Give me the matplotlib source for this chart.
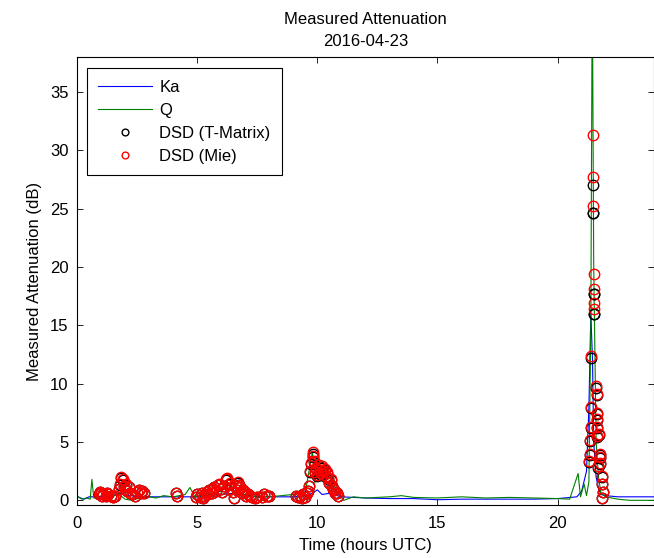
import numpy as np
import matplotlib
matplotlib.use('Agg')
import matplotlib.pyplot as plt

plt.rcParams['font.family'] = ['Liberation Sans', 'DejaVu Sans']
plt.rcParams['font.size'] = 12

# link attenuation, Ka band (hours UTC, dB)
ka_t = [0.0, 0.3, 0.5, 1.0, 1.5, 1.8, 2.0, 2.5, 3.0, 4.0, 5.0, 5.5, 6.0, 6.5, 7.0,
        7.5, 8.0, 9.0, 9.5, 9.8, 10.0, 10.2, 10.5, 11.0, 12.0, 13.0, 14.0, 15.0,
        16.0, 17.0, 18.0, 19.0, 20.0, 20.8, 21.0, 21.2, 21.3, 21.38, 21.45, 21.5,
        21.6, 21.7, 21.8, 22.0, 22.5, 23.0, 24.0]
ka_v = [0.3, 0.1, 0.3, 0.3, 0.4, 0.6, 0.5, 0.3, 0.3, 0.3, 0.3, 0.4, 0.5, 0.6, 0.4,
        0.3, 0.3, 0.3, 0.4, 0.6, 0.9, 0.5, 0.6, 0.3, 0.2, 0.15, 0.15, 0.05,
        0.1, 0.1, 0.1, 0.1, 0.15, 0.3, 0.8, 2.5, 8.0, 16.0, 12.0, 5.0,
        2.0, 1.0, 0.5, 0.4, 0.3, 0.3, 0.3]

# link attenuation, Q band
q_t = [0.0, 0.2, 0.4, 0.55, 0.62, 0.7, 1.0, 1.5, 1.7, 2.0, 2.3, 2.6, 3.0, 3.3,
       3.6, 4.0, 4.5, 4.7, 4.9, 5.5, 6.0, 6.3, 6.6, 7.0, 7.5, 8.0, 8.5, 9.0,
       9.5, 9.8, 9.9, 10.0, 10.2, 10.5, 10.8, 11.1, 11.5, 12.0, 13.0, 13.5,
       14.0, 15.0, 16.0, 17.0, 18.0, 19.0, 20.0, 20.5, 20.85, 20.95, 21.1,
       21.2, 21.3, 21.38, 21.44, 21.5, 21.6, 21.7, 21.8, 22.0, 22.5, 23.0, 24.0]
q_v = [0.4, 0.1, 0.2, 0.1, 1.8, 0.2, 0.2, 0.3, 0.6, 0.1, 0.0, 0.2, 0.3, 0.2,
       0.4, 0.3, 0.5, 1.1, 0.3, 0.5, 0.8, 1.5, 0.6, 0.5, 0.3, 0.3, 0.4, 0.5,
       0.7, 4.2, 1.5, 3.5, 2.5, 2.5, 0.8, 0.0, 0.3, 0.2, 0.3, 0.4,
       0.25, 0.2, 0.3, 0.2, 0.25, 0.2, 0.15, 0.1, 2.3, 0.3, 1.4,
       0.4, 1.6, 15.0, 45.0, 20.0, 5.0, 2.0, 0.6, 0.3, 0.1, 0.0, 0.0]

# disdrometer-derived attenuation
dsd_t = [0.9, 0.95, 1.0, 1.05, 1.1, 1.2, 1.25, 1.3, 1.4, 1.5, 1.6, 1.75, 1.8,
         1.85, 1.9, 1.95, 2.0, 2.05, 2.1, 2.15, 2.2, 2.3, 2.4, 2.5, 2.6, 2.65,
         2.7, 2.8,
         4.1, 4.15,
         4.95, 5.0, 5.1, 5.2, 5.25, 5.3, 5.4, 5.45, 5.5, 5.6, 5.65, 5.7, 5.8,
         5.85, 5.9, 6.0, 6.05, 6.1, 6.2, 6.25, 6.3, 6.35, 6.4, 6.5, 6.55, 6.6,
         6.65, 6.7, 6.75, 6.8, 6.85, 6.9, 7.0, 7.05, 7.1, 7.2, 7.3, 7.4, 7.5,
         7.7, 7.8, 7.9, 8.0,
         9.1, 9.2, 9.3, 9.35, 9.4, 9.5, 9.55, 9.6, 9.65, 9.7, 9.75, 9.8, 9.82,
         9.85, 9.9, 9.95, 10.0, 10.05, 10.1, 10.15, 10.2, 10.25, 10.3, 10.35,
         10.4, 10.45, 10.5, 10.55, 10.6, 10.65, 10.7, 10.75, 10.8, 10.85,
         21.32, 21.35, 21.35, 21.4, 21.4, 21.4, 21.47, 21.47, 21.47, 21.5, 21.51,
         21.51, 21.5, 21.58, 21.63, 21.65, 21.62, 21.65, 21.72, 21.62, 21.75,
         21.77, 21.77, 21.67, 21.84, 21.85, 21.88, 21.85]
mie_v = [0.5, 0.7, 0.6, 0.4, 0.5, 0.4, 0.6, 0.5, 0.4, 0.3, 0.4, 1.0, 1.4,
         2.0, 1.8, 1.2, 1.0, 1.4, 0.8, 1.1, 0.6, 0.5, 0.4, 0.7, 0.9, 0.6,
         0.8, 0.6,
         0.6, 0.4,
         0.3, 0.5, 0.3, 0.6, 0.2, 0.4, 0.7, 0.5, 0.9, 0.6, 1.0, 1.1, 0.8,
         1.3, 1.4, 1.0, 0.7, 1.2, 1.8, 1.9, 1.3, 1.5, 1.0, 0.7, 0.2, 1.2,
         0.9, 1.6, 1.3, 1.1, 0.6, 0.9, 0.7, 0.4, 0.5, 0.4, 0.3, 0.2, 0.3,
         0.3, 0.5, 0.4, 0.4,
         0.4, 0.3, 0.4, 0.2, 0.5, 0.3, 0.6, 0.8, 1.2, 2.5, 3.2, 4.1, 3.8,
         3.4, 2.4, 2.8, 2.2, 3.0, 2.6, 2.3, 2.9, 2.5, 2.7, 2.1,
         2.4, 1.9, 1.5, 1.8, 1.2, 1.0, 0.9, 0.6, 0.6, 0.4,
         3.4, 4.0, 5.2, 6.3, 8.0, 12.4, 31.3, 27.7, 25.2, 19.4, 18.1,
         16.9, 16.4, 9.8, 9.1, 7.5, 7.0, 6.3, 5.7, 5.5, 4.0,
         3.7, 3.2, 2.9, 2.1, 1.4, 0.7, 0.2]
tmat_v = [0.5, 0.7, 0.6, 0.4, 0.5, 0.4, 0.6, 0.5, 0.4, 0.3, 0.4, 1.0, 1.3,
          1.9, 1.7, 1.2, 1.0, 1.3, 0.8, 1.1, 0.6, 0.5, 0.4, 0.7, 0.9, 0.6,
          0.8, 0.6,
          0.6, 0.4,
          0.3, 0.5, 0.3, 0.6, 0.2, 0.4, 0.7, 0.5, 0.9, 0.6, 1.0, 1.1, 0.8,
          1.3, 1.3, 1.0, 0.7, 1.2, 1.7, 1.8, 1.3, 1.4, 1.0, 0.7, 0.2, 1.2,
          0.9, 1.5, 1.3, 1.1, 0.6, 0.9, 0.7, 0.4, 0.5, 0.4, 0.3, 0.2, 0.3,
          0.3, 0.5, 0.4, 0.4,
          0.4, 0.3, 0.4, 0.2, 0.5, 0.3, 0.6, 0.8, 1.2, 2.4, 3.1, 4.0, 3.7,
          3.3, 2.3, 2.7, 2.1, 2.9, 2.5, 2.2, 2.8, 2.4, 2.6, 2.0,
          2.3, 1.8, 1.5, 1.7, 1.2, 1.0, 0.9, 0.6, 0.6, 0.4,
          3.3, 3.9, 5.1, 6.2, 7.9, 12.2, 27.0, 24.6, 24.6, 17.7, 17.7,
          16.0, 16.0, 9.6, 9.0, 7.4, 6.9, 6.2, 5.6, 5.4, 3.9,
          3.6, 3.1, 2.8, 2.0, 1.4, 0.7, 0.2]

fig = plt.figure(figsize=(6.54, 5.58), dpi=100)
ax = fig.add_axes([0.1177, 0.095, 0.882, 0.803])

ax.plot(ka_t, ka_v, color='blue', lw=0.8, label='Ka')
ax.plot(q_t, q_v, color='green', lw=0.8, label='Q')
ax.plot(dsd_t, tmat_v, 'o', mfc='none', mec='black', ms=7.5, mew=1.0,
        label='DSD (T-Matrix)')
ax.plot(dsd_t, mie_v, 'o', mfc='none', mec='red', ms=7.5, mew=1.0,
        label='DSD (Mie)')

ax.set_xlim(0, 24)
ax.set_ylim(-0.4, 38)
ax.set_xticks([0, 5, 10, 15, 20])
ax.set_yticks([0, 5, 10, 15, 20, 25, 30, 35])
ax.tick_params(direction='in', length=4, top=True, right=True, width=0.6)
ax.tick_params(axis='x', pad=8)
ax.tick_params(axis='y', pad=6)
for s in ax.spines.values():
    s.set_linewidth(0.8)

ax.set_xlabel('Time (hours UTC)', labelpad=5)
ax.set_ylabel('Measured Attenuation (dB)', labelpad=6)
ax.set_title('Measured Attenuation\n2016-04-23', fontsize=12, pad=8,
             linespacing=1.55)

leg = ax.legend(loc='upper left', bbox_to_anchor=(0.017, 0.975), borderaxespad=0,
                fancybox=False, framealpha=1, edgecolor='black', handlelength=3.2,
                handletextpad=0.45, labelspacing=0.48, borderpad=0.7,
                markerscale=0.65)
leg.get_frame().set_linewidth(0.8)

fig.savefig('out.png', dpi=100)
